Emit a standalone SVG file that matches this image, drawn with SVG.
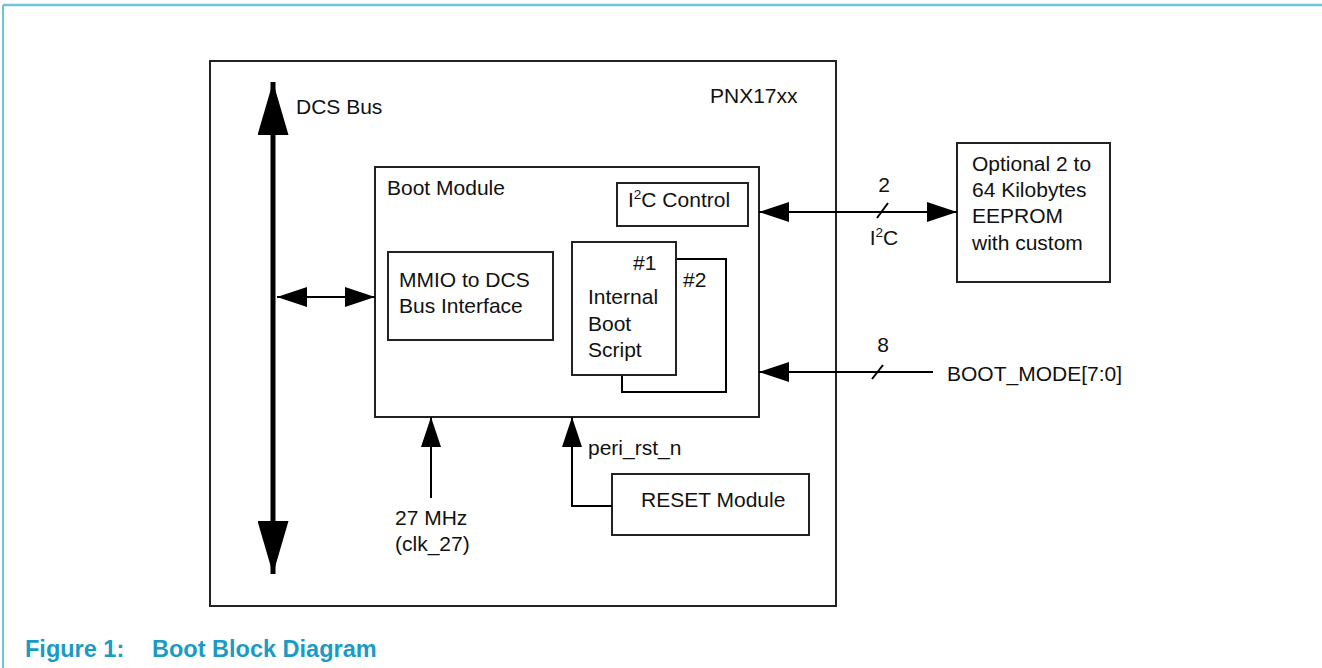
<svg xmlns="http://www.w3.org/2000/svg" width="1322" height="668" viewBox="0 0 1322 668">
<style>
.box{fill:#fff;stroke:#222;stroke-width:2}
.ln{fill:none;stroke:#000;stroke-width:2}
.t{font-family:"Liberation Sans",Arial,sans-serif;font-size:21px;fill:#111}
.cap{font-family:"Liberation Sans",Arial,sans-serif;font-size:23.5px;font-weight:bold;fill:#1a9bc6}
</style>
<defs>
<marker id="ah" markerUnits="userSpaceOnUse" viewBox="0 0 30 20" refX="30" refY="10" markerWidth="30" markerHeight="20" orient="auto-start-reverse"><path d="M0,0 L30,10 L0,20 z" fill="#000"/></marker>
<marker id="bh" markerUnits="userSpaceOnUse" viewBox="0 0 53 31" refX="53" refY="15.5" markerWidth="53" markerHeight="31" orient="auto-start-reverse"><path d="M0,0 L53,15.5 L0,31 z" fill="#000"/></marker>
</defs>
<rect width="1322" height="668" fill="#fff"/>
<g id="frame">
<line x1="3" y1="5" x2="1322" y2="5" stroke="#6cc5dd" stroke-width="2.5"/>
<line x1="3" y1="5" x2="3" y2="668" stroke="#6cc5dd" stroke-width="2"/>
</g>
<g id="pnx"><rect class="box" x="210" y="61" width="626" height="545"/><text class="t" x="710" y="103">PNX17xx</text></g>
<g id="boot"><rect class="box" x="375" y="167" width="384" height="250"/><text class="t" x="387" y="195">Boot Module</text></g>
<g id="mmio"><rect class="box" x="388" y="252" width="165" height="88"/><text class="t" x="399" y="287">MMIO to DCS</text><text class="t" x="399" y="313">Bus Interface</text></g>
<g id="i2cctl"><rect class="box" x="617" y="183" width="131" height="43"/><text class="t" x="628" y="207">I<tspan font-size="13.5" dy="-8">2</tspan><tspan dy="8">C Control</tspan></text></g>
<g id="script2"><path class="ln" d="M676,259 H726 V392 H622 V375" stroke="#222"/><text class="t" x="683" y="287">#2</text></g>
<g id="script1"><rect class="box" x="572" y="242" width="104" height="133"/><text class="t" x="633" y="270">#1</text><text class="t" x="588" y="304">Internal</text><text class="t" x="588" y="331">Boot</text><text class="t" x="588" y="357">Script</text></g>
<g id="eeprom"><rect class="box" x="957" y="143" width="153" height="139"/><text class="t" x="972" y="171">Optional 2 to</text><text class="t" x="972" y="197">64 Kilobytes</text><text class="t" x="972" y="223">EEPROM</text><text class="t" x="972" y="250">with custom</text></g>
<g id="reset"><rect class="box" x="612" y="474" width="197" height="61"/><text class="t" x="641" y="507">RESET Module</text></g>
<g id="connectors">
<line x1="273" y1="574" x2="273" y2="82" stroke="#000" stroke-width="5" marker-start="url(#bh)" marker-end="url(#bh)"/>
<line class="ln" x1="277" y1="297" x2="375" y2="297" stroke-width="3" marker-start="url(#ah)" marker-end="url(#ah)"/>
<line class="ln" x1="759" y1="212" x2="957" y2="212" marker-start="url(#ah)" marker-end="url(#ah)"/>
<line class="ln" x1="877" y1="218" x2="888" y2="203"/>
<line class="ln" x1="933" y1="372" x2="759" y2="372" marker-end="url(#ah)"/>
<line class="ln" x1="872" y1="379" x2="883" y2="365"/>
<line class="ln" x1="431" y1="498" x2="431" y2="417" marker-end="url(#ah)"/>
<path class="ln" d="M612,506 H572 V417" marker-end="url(#ah)"/>
</g>
<g id="labels">
<text class="t" x="296" y="114">DCS Bus</text>
<text class="t" x="884" y="192" text-anchor="middle">2</text>
<text class="t" x="884" y="245" text-anchor="middle">I<tspan font-size="13.5" dy="-8">2</tspan><tspan dy="8">C</tspan></text>
<text class="t" x="883" y="352" text-anchor="middle">8</text>
<text class="t" x="947" y="381">BOOT_MODE[7:0]</text>
<text class="t" x="395" y="525">27 MHz</text>
<text class="t" x="395" y="551">(clk_27)</text>
<text class="t" x="588" y="455">peri_rst_n</text>
</g>
<g id="caption"><text class="cap" x="25" y="657">Figure 1:</text><text class="cap" x="152" y="657">Boot Block Diagram</text></g>
</svg>
